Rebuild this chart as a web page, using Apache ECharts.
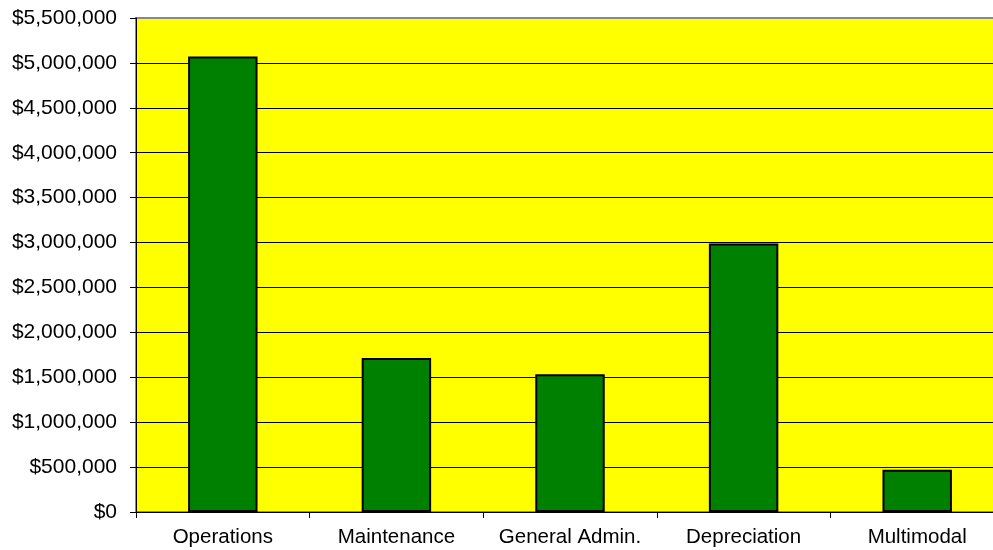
<!DOCTYPE html>
<html>
<head>
<meta charset="utf-8">
<script src="https://cdn.jsdelivr.net/npm/echarts@6/dist/echarts.min.js"></script>
<style>
html,body{margin:0;padding:0;background:#fff;overflow:hidden;}
#chart{width:1010px;height:550px;}
</style>
</head>
<body>
<div id="chart"></div>
<script>
const categories = ['Operations', 'Maintenance', 'General Admin.', 'Depreciation', 'Multimodal'];
const values = [5070000, 1715000, 1535000, 2990000, 470000];
const yMax = 5500000;
const yInterval = 500000;

const chart = echarts.init(document.getElementById('chart'), null, {renderer: 'canvas'});
const splitColors = [];
for (let v = 0; v <= yMax; v += yInterval) splitColors.push(v === yMax ? '#888888' : '#000000');

chart.setOption({
  animation: false,
  grid: {
    left: 136, top: 18, right: 6, bottom: 38,
    show: true, backgroundColor: '#FFFF00', borderColor: '#888888', borderWidth: 2
  },
  xAxis: {
    type: 'category',
    data: categories,
    axisLine: {lineStyle: {color: '#000', width: 1}},
    axisTick: {show: true, interval: 0, length: 6, lineStyle: {color: '#000'}},
    axisLabel: {interval: 0, hideOverlap: false, fontFamily: 'Liberation Sans, Arial, sans-serif', fontSize: 20.5, color: '#000', margin: 15}
  },
  yAxis: {
    type: 'value',
    min: 0, max: yMax, interval: yInterval,
    axisLine: {show: true, lineStyle: {color: '#000', width: 1}},
    axisTick: {show: true, length: 6, lineStyle: {color: '#000'}},
    axisLabel: {
      fontFamily: 'Liberation Sans, Arial, sans-serif', fontSize: 21, color: '#000', margin: 19,
      formatter: v => '$' + v.toLocaleString('en-US')
    },
    splitLine: {show: true, lineStyle: {color: splitColors, width: 1}}
  },
  series: [{
    type: 'bar',
    data: values,
    barWidth: '40%',
    itemStyle: {color: '#008000', borderColor: '#000', borderWidth: 2}
  }]
});
</script>
</body>
</html>
